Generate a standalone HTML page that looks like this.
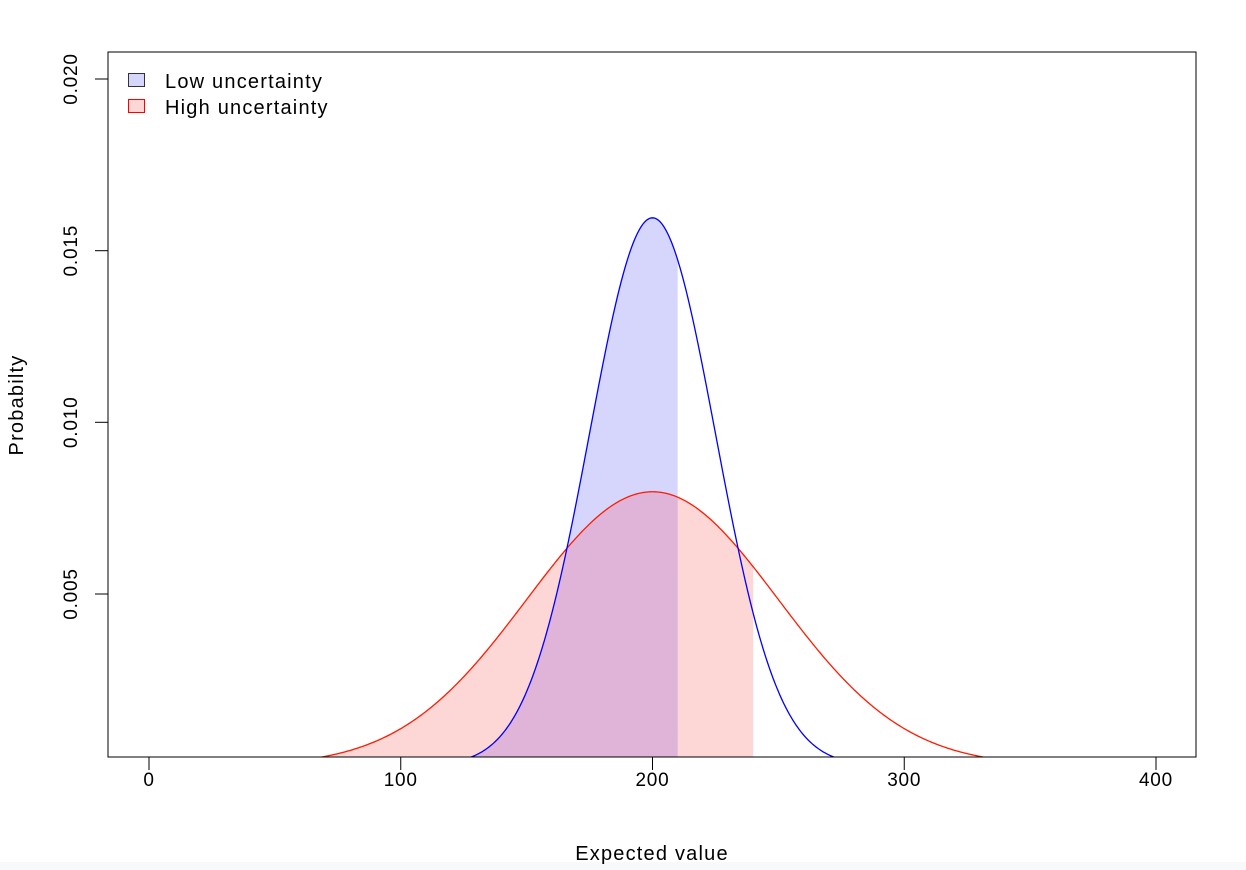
<!DOCTYPE html>
<html><head><meta charset="utf-8"><style>
html,body{margin:0;padding:0;background:#fff;}
svg{display:block;font-family:"Liberation Sans",Arial,sans-serif;}
</style></head><body>
<svg id="s" width="1246" height="870" xmlns="http://www.w3.org/2000/svg">
<rect x="0" y="862" width="1246" height="8" fill="#f7f9fa"/>
<defs><clipPath id="c"><rect x="108" y="52" width="1088" height="705"/></clipPath></defs>
<g clip-path="url(#c)">
<path id="redfill" fill="#fdd6d6"/>
<path id="bluefill" fill="#d6d6fc"/>
<path id="ovfill" fill="#dfb4d8"/>
<path id="redline" fill="none" stroke="#ff1a00" stroke-width="1.3"/>
<path id="blueline" fill="none" stroke="#0000ff" stroke-width="1.3"/>
</g>
<rect x="108" y="52" width="1088" height="705" fill="none" stroke="#000" stroke-width="1"/>
<g stroke="#000" stroke-width="1">
<line x1="149" y1="757" x2="1156" y2="757"/>
<line x1="149" y1="757" x2="149" y2="770"/>
<line x1="400.75" y1="757" x2="400.75" y2="770"/>
<line x1="652.5" y1="757" x2="652.5" y2="770"/>
<line x1="904.25" y1="757" x2="904.25" y2="770"/>
<line x1="1156" y1="757" x2="1156" y2="770"/>
<line x1="108" y1="594" x2="95" y2="594"/>
<line x1="108" y1="422.3" x2="95" y2="422.3"/>
<line x1="108" y1="250.7" x2="95" y2="250.7"/>
<line x1="108" y1="79" x2="95" y2="79"/>
<line x1="108" y1="79" x2="108" y2="594"/>
</g>
<g font-size="19" text-anchor="middle" fill="#000" letter-spacing="0.8">
<text x="149" y="786">0</text>
<text x="400.75" y="786">100</text>
<text x="652.5" y="786">200</text>
<text x="904.25" y="786">300</text>
<text x="1156" y="786">400</text>
<text transform="translate(77,594) rotate(-90)">0.005</text>
<text transform="translate(77,422.3) rotate(-90)">0.010</text>
<text transform="translate(77,250.7) rotate(-90)">0.015</text>
<text transform="translate(77,79) rotate(-90)">0.020</text>
</g>
<g font-size="20" text-anchor="middle" fill="#000" letter-spacing="1.2">
<text x="652" y="860">Expected value</text>
<text transform="translate(23,405) rotate(-90)">Probabilty</text>
</g>
<rect x="128.5" y="73.5" width="16" height="13" fill="#d6d6fc" stroke="#333" stroke-width="1"/>
<rect x="128.5" y="99.5" width="16" height="13" fill="#fdd6d6" stroke="#ff0000" stroke-width="1"/>
<g font-size="20" letter-spacing="1.2">
<text x="165" y="88">Low uncertainty</text>
<text x="165" y="114">High uncertainty</text>
</g>
</svg>
<script>
function X(v){return 149+v*2.5175;}
function Y(d){return 765.7-d/0.005*171.67;}
function n(v,m,s){return Math.exp(-0.5*((v-m)/s)**2)/(s*Math.sqrt(2*Math.PI));}
function line(s){var p="";for(var v=0;v<=400;v+=0.5){p+=(v?"L":"M")+X(v).toFixed(2)+","+Y(n(v,200,s)).toFixed(2);}return p;}
function fill(f,a,b){var p="M"+X(a)+","+Y(0);for(var v=a;v<=b+1e-9;v+=0.5){p+="L"+X(v).toFixed(2)+","+Y(f(v)).toFixed(2);}p+="L"+X(b)+","+Y(0)+"Z";return p;}
document.getElementById("redfill").setAttribute("d",fill(function(v){return n(v,200,50)},0,240));
document.getElementById("bluefill").setAttribute("d",fill(function(v){return n(v,200,25)},0,210));
document.getElementById("ovfill").setAttribute("d",fill(function(v){return Math.min(n(v,200,25),n(v,200,50))},0,210));
document.getElementById("redline").setAttribute("d",line(50));
document.getElementById("blueline").setAttribute("d",line(25));
</script>
</body></html>
